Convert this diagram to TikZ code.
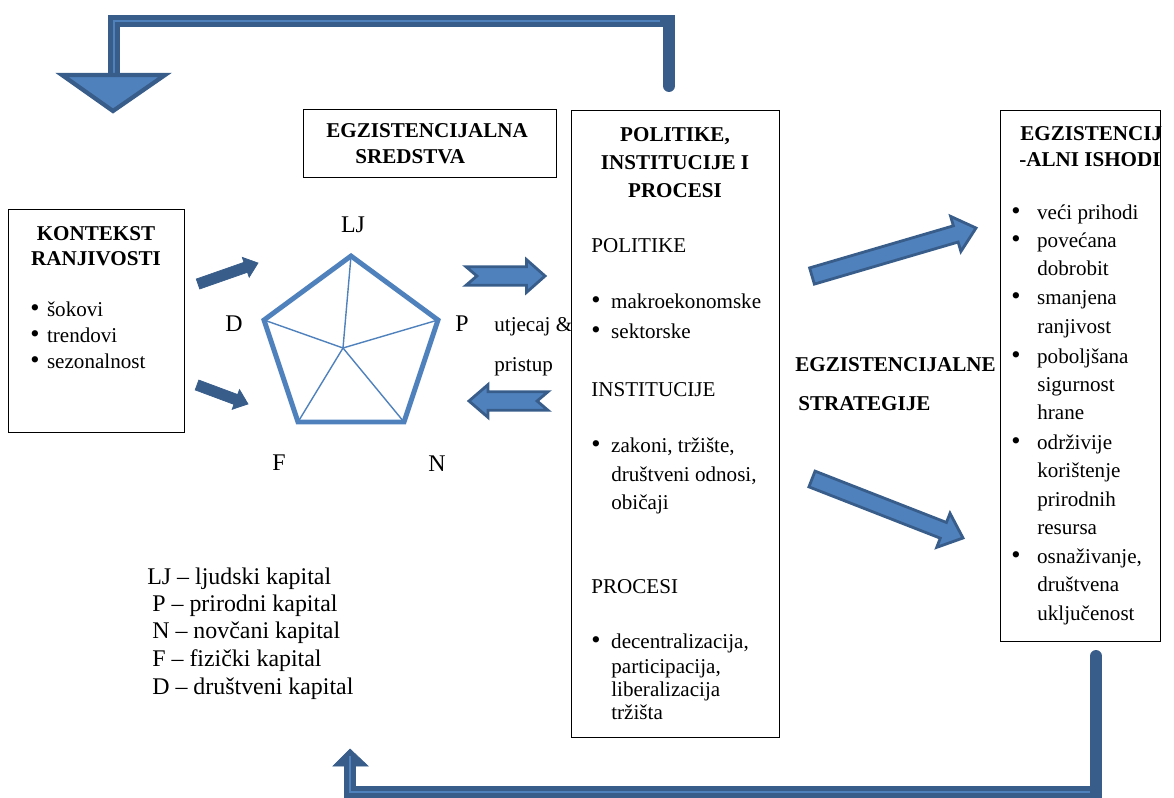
\documentclass[tikz,border=0pt]{standalone}
\usepackage{fontspec}
\setmainfont{Liberation Serif}
\usetikzlibrary{calc}

\definecolor{darkblue}{HTML}{385D8A}
\definecolor{lightblue}{HTML}{4F81BD}
\newcommand{\nsize}{\fontsize{12}{14}\selectfont}
\newcommand{\bsize}{\fontsize{13.6}{16}\selectfont}
\newcommand{\blt}[1]{\makebox[#1][l]{\scalebox{1.25}{\textbullet}}}
% block arrow: style, tail, tip, half shaft, half head, head length, notch
\newcommand{\blockarrow}[7]{%
  \coordinate (h) at ($(#3)!#6!(#2)$);
  \path[#1] ($(#2)!#4!90:(#3)$) -- ($(h)!#4!-90:(#2)$) -- ($(h)!#5!-90:(#2)$) -- (#3)
    -- ($(h)!#5!90:(#2)$) -- ($(h)!#4!90:(#2)$) -- ($(#2)!#4!-90:(#3)$)
    -- ($(#2)!#7!(#3)$) -- cycle;}

\tikzset{
  box/.style={draw, line width=0.6pt, anchor=north west, inner sep=0pt},
  txt/.style={anchor=base west, inner sep=0pt},
  lbl/.style={anchor=base, inner sep=0pt, font=\bsize},
  leg/.style={anchor=base west, inner sep=0pt, font=\bsize},
  hd/.style={anchor=base, inner sep=0pt, font=\nsize\bfseries},
  hdl/.style={anchor=base west, inner sep=0pt, font=\nsize\bfseries},
  penta/.style={draw=lightblue, line width=2.8pt, line join=miter},
  spoke/.style={draw=lightblue, line width=0.8pt},
  fat/.style={fill=lightblue, draw=darkblue, line width=1.6pt, line join=miter},
  solid arrow/.style={fill=darkblue, draw=darkblue, line width=0.4pt},
  loopbar/.style={draw=darkblue, line width=6.8pt, line join=miter},
  loopline/.style={draw=lightblue, line width=0.8pt},
}

\begin{document}
\begin{tikzpicture}[x=0.02cm,y=-0.02cm,every node/.style={font=\nsize}]
  \useasboundingbox (0,0) rectangle (1174,798);

  % boxes
  \node[box, minimum width=3.52cm, minimum height=4.46cm] (kontekst) at (8,209) {};
  \node[box, minimum width=5.06cm, minimum height=1.36cm] (sredstva) at (303,109) {};
  \node[box, minimum width=4.16cm, minimum height=12.54cm] (politike) at (571,110) {};
  \node[box, minimum width=3.2cm, minimum height=10.62cm] (ishodi) at (1000,110) {};

  % kontekst ranjivosti
  \node[hd] (k1) at (96,240) {KONTEKST};
  \node[hd] (k2) at (96,265) {RANJIVOSTI};
  \foreach \t/\y in {šokovi/316, trendovi/342, sezonalnost/368}
    \node[txt] (k\y) at (30,\y) {\blt{9.5pt}\t};

  % egzistencijalna sredstva
  \node[hdl] (s1) at (326,137) {EGZISTENCIJALNA};
  \node[hdl] (s2) at (355,163) {SREDSTVA};

  % pentagon
  \coordinate (LJp) at (351,256);
  \coordinate (Pp) at (438,320);
  \coordinate (Np) at (404,422);
  \coordinate (Fp) at (298,422);
  \coordinate (Dp) at (264,320);
  \coordinate (cen) at (343,348);
  \foreach \v in {LJp,Pp,Np,Fp,Dp}
    \draw[spoke] (cen) -- (\v);
  \draw[penta] (LJp) -- (Pp) -- (Np) -- (Fp) -- (Dp) -- cycle;
  \node[lbl] (LJ) at (353,232) {LJ};
  \node[lbl] (P) at (462,331) {P};
  \node[lbl] (N) at (437,471) {N};
  \node[lbl] (F) at (279,470) {F};
  \node[lbl] (D) at (234,331) {D};

  \node[txt] (ut) at (494,331) {utjecaj \&};
  \node[txt] (pr) at (494,371) {pristup};

  % politike, institucije i procesi
  \node[hd] (p1) at (675,141) {POLITIKE,};
  \node[hd] (p2) at (675,169) {INSTITUCIJE I};
  \node[hd] (p3) at (675,197) {PROCESI};
  \node[txt] (p4) at (591,252) {POLITIKE};
  \foreach \t/\y in {makroekonomske/308, sektorske/338}
    \node[txt] (pa\y) at (591,\y) {\blt{11.3pt}\t};
  \node[txt] (p5) at (591,396) {INSTITUCIJE};
  \node[txt] (pb1) at (591,452) {\blt{11.3pt}zakoni, tržište,};
  \node[txt] (pb2) at (611,481) {društveni odnosi,};
  \node[txt] (pb3) at (611,509) {običaji};
  \node[txt] (p6) at (591,593) {PROCESI};
  \node[txt] (pc1) at (591,648) {\blt{11.3pt}decentralizacija,};
  \node[txt] (pc2) at (611,673) {participacija,};
  \node[txt] (pc3) at (611,696) {liberalizacija};
  \node[txt] (pc4) at (611,719) {tržišta};

  % strategije
  \node[hdl] (st1) at (795,371) {EGZISTENCIJALNE};
  \node[hdl] (st2) at (798,410) {STRATEGIJE};

  % egzistencijalni ishodi
  \node[hdl] (i1) at (1020,140) {EGZISTENCIJ};
  \node[hdl] (i2) at (1019,166) {-ALNI ISHODI};
  \foreach \t/\y in {veći prihodi/219, povećana/247, smanjena/304, poboljšana/363,
                     održivije/449, {osnaživanje,}/563}
    \node[txt] (ia\y) at (1011,\y) {\blt{14.7pt}\t};
  \foreach \t/\y in {dobrobit/275, ranjivost/333, sigurnost/391, hrane/419,
                     korištenje/477, prirodnih/506, resursa/534, društvena/591, uključenost/620}
    \node[txt] (ib\y) at (1037,\y) {\t};

  % legend
  \node[leg] (l1) at (147,584) {LJ -- ljudski kapital};
  \node[leg] (l2) at (152,611) {P -- prirodni kapital};
  \node[leg] (l3) at (152,638) {N -- novčani kapital};
  \node[leg] (l4) at (152,666) {F -- fizički kapital};
  \node[leg] (l5) at (152,694) {D -- društveni kapital};

  % arrows
  \coordinate (a1t) at (198,284); \coordinate (a1h) at (258,263);
  \coordinate (a2t) at (197,385); \coordinate (a2h) at (248,404);
  \blockarrow{solid arrow}{a1t}{a1h}{3pt}{6pt}{7.4pt}{0pt}
  \blockarrow{solid arrow}{a2t}{a2h}{3pt}{6pt}{7.4pt}{0pt}

  \coordinate (b1t) at (466,276); \coordinate (b1h) at (545,276);
  \coordinate (b2t) at (548,401); \coordinate (b2h) at (469,401);
  \blockarrow{fat}{b1t}{b1h}{5.3pt}{9.3pt}{10.5pt}{6.2pt}
  \blockarrow{fat}{b2t}{b2h}{5.3pt}{9.3pt}{10.8pt}{6.2pt}

  \coordinate (c1t) at (812,276); \coordinate (c1h) at (976,228);
  \coordinate (c2t) at (812,479); \coordinate (c2h) at (963,538);
  \blockarrow{fat}{c1t}{c1h}{4.8pt}{10.4pt}{12pt}{0pt}
  \blockarrow{fat}{c2t}{c2h}{4.8pt}{10.4pt}{12pt}{0pt}

  % feedback top
  \coordinate (ft0) at (669,86);
  \coordinate (ft1) at (669,21);
  \coordinate (ft2) at (114,21);
  \coordinate (ft3) at (114,78);
  \draw[loopbar, line cap=round] (ft0) -- (ft1) -- (ft2) -- (ft3);
  \draw[loopline] (660,21) -- (ft2) -- (ft3);
  \draw[fat, line width=2.4pt] (62,75) -- (165,75) -- (113,111) -- cycle;

  % feedback bottom
  \coordinate (fb0) at (1096,656);
  \coordinate (fb1) at (1096,792);
  \coordinate (fb2) at (350,792);
  \coordinate (fb3) at (350,765);
  \draw[loopbar, line cap=round] (fb0) -- (fb1) -- (fb2) -- (fb3);
  \draw[fill=darkblue, draw=darkblue, line width=0.4pt] (333,766) -- (368,766) -- (350,749) -- cycle;
  \draw[loopline] (1090,792) -- (fb2) -- (350,756);
\end{tikzpicture}
\end{document}
